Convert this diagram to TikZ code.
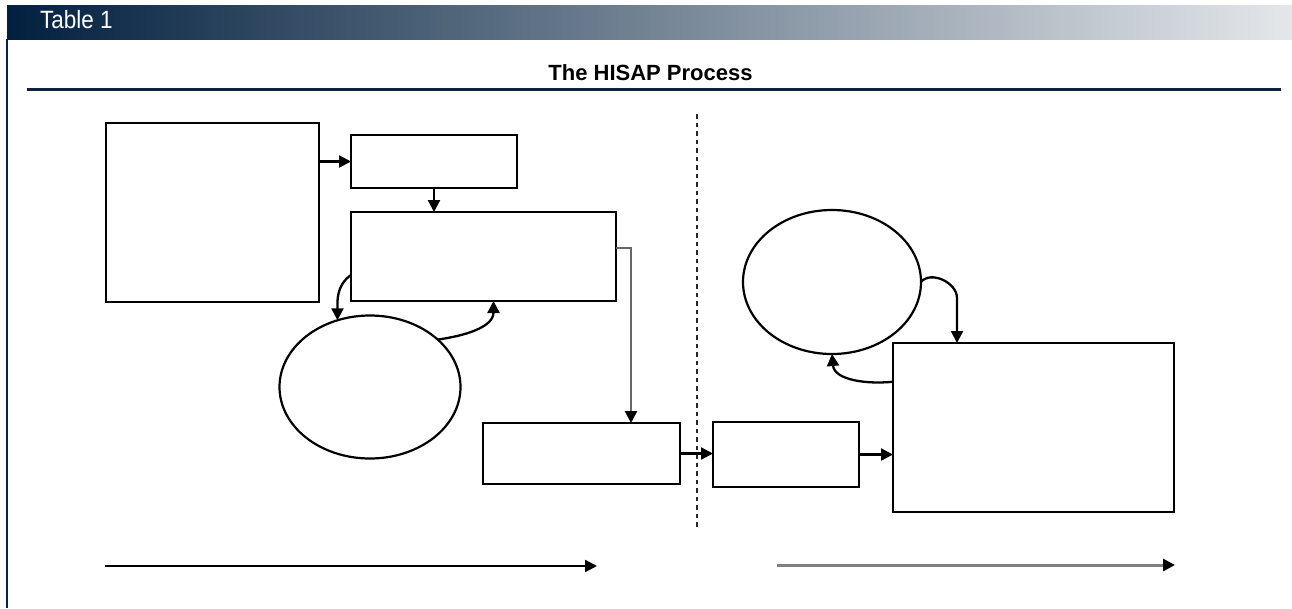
\documentclass[tikz,border=0pt]{standalone}
\usepackage{fontspec}
\setmainfont{Liberation Sans}
\usetikzlibrary{arrows.meta,shapes.geometric,calc}
\definecolor{hdL}{HTML}{02203F}
\definecolor{hdM}{HTML}{8793A1}
\definecolor{hdR}{HTML}{E4E7EA}
\definecolor{navy}{HTML}{0A2440}
\tikzset{
  boxnode/.style={draw=black, line width=2.6pt, rectangle, inner sep=0pt, outer sep=0pt, fill=white},
  ellnode/.style={draw=black, line width=2.2pt, ellipse, inner sep=0pt, outer sep=0pt, fill=white},
  arr/.style={draw=black, line width=2.3pt, -{Triangle[length=12pt,width=12pt]}},
  grayarr/.style={draw=black!60, line width=2.5pt, -{Triangle[length=12pt,width=12pt,color=black]}},
  sep/.style={draw=black!85, line width=2pt, dash pattern=on 4.5pt off 4pt},
}
\begin{document}
\begin{tikzpicture}[x=1pt,y=-1pt]
\useasboundingbox (0,0) rectangle (1292,608);
% header bar
\shade[left color=hdL, middle color=hdM, right color=hdR] (7,5) rectangle (1292,39);
\node[anchor=base west, text=white, font=\fontsize{25}{25}\selectfont, xscale=0.9, inner sep=0pt] (tbl) at (40,28.5) {Table 1};
\draw[navy, line width=1.4pt] (7,39) -- (7,608);
% title
\node[anchor=base, font=\bfseries\fontsize{22}{22}\selectfont, inner sep=0pt] (title) at (650.5,80) {The HISAP Process};
\draw[navy, line width=3pt] (27,89.5) -- (1281,89.5);
% boxes
\node[boxnode, minimum width=213pt, minimum height=179pt] (A) at (212.5,212.5) {};
\node[boxnode, minimum width=166pt, minimum height=53pt] (B) at (434,161.5) {};
\node[boxnode, minimum width=265pt, minimum height=89pt] (C) at (483.5,256.5) {};
\node[boxnode, minimum width=197pt, minimum height=61pt] (D) at (581.5,453.5) {};
\node[boxnode, minimum width=146pt, minimum height=65pt] (E) at (786,454.5) {};
\node[boxnode, minimum width=281pt, minimum height=169pt] (F) at (1033.5,427.5) {};
\node[ellnode, minimum width=181pt, minimum height=143pt] (H) at (370,387) {};
\node[ellnode, minimum width=178pt, minimum height=144pt] (G) at (832,282) {};
% separator
\coordinate (s1) at (696.5,114);
\coordinate (s2) at (696.5,530);
\draw[sep] (s1) -- (s2);
% connectors
\draw[arr] (A.east |- B.west) -- (B.west);
\draw[arr] (B.south) -- (B.south |- C.north);
\draw[grayarr] ([yshift=8.5pt]C.east) -| ([xshift=49.5pt]D.north);
\draw[arr] (D.east) -- (D.east -| E.west);
\draw[arr] (E.east) -- (E.east -| F.west);
\draw[arr] ([yshift=-18.5pt]C.west) to[out=215,in=90] (H.116);
\draw[arr] (H.35) to[out=8,in=-90] ([xshift=10pt]C.south);
\draw[arr] (G.east) to[out=50,in=90] ([xshift=-76.5pt,yshift=45pt]F.north) -- ([xshift=-76.5pt]F.north);
\draw[arr] ([yshift=45.8pt]F.west) to[out=186,in=-85] (G.south);
% timeline arrows
\coordinate (l1) at (105,566);
\coordinate (l2) at (597,566);
\coordinate (r1) at (777,565);
\coordinate (r2) at (1175,565);
\draw[arr] (l1) -- (l2);
\draw[grayarr, line width=3pt, draw=black!50] (r1) -- (r2);
\end{tikzpicture}
\end{document}
